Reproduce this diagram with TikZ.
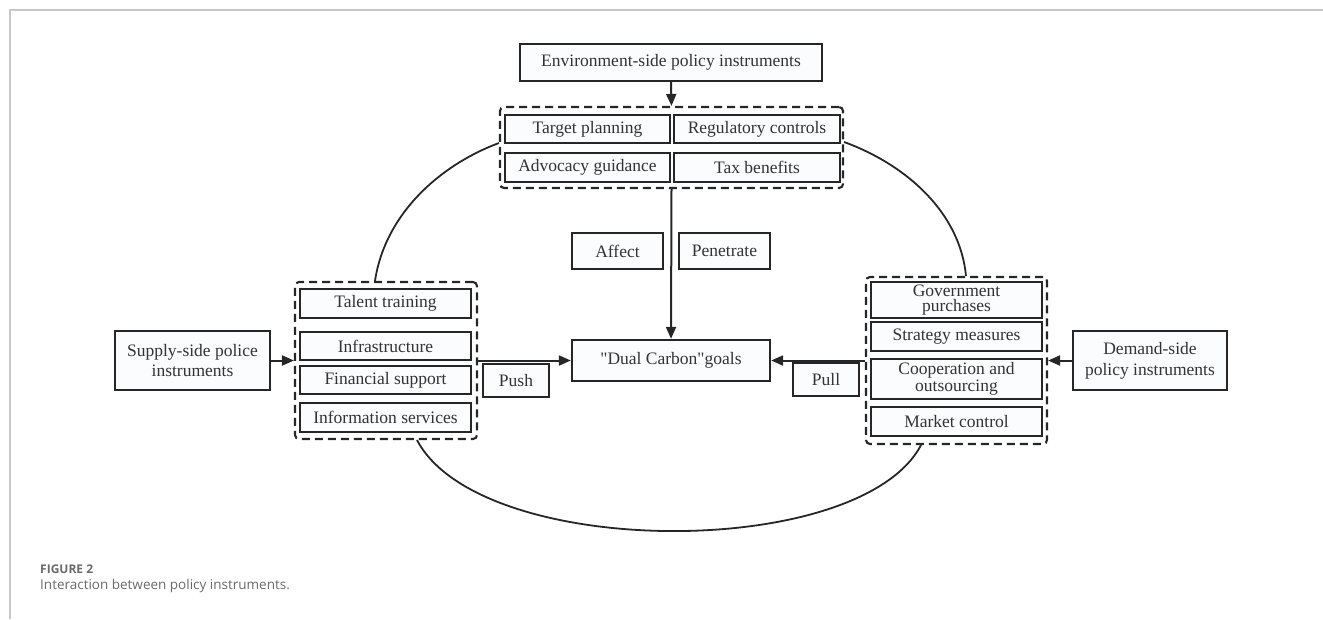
\documentclass[tikz,border=0pt]{standalone}
\usepackage{fontspec}
\setmainfont{Liberation Serif}
\newfontfamily\rawserif{Liberation Serif}
\newfontfamily\capfont{Open Sans}
\usetikzlibrary{arrows.meta,calc}
\definecolor{frame}{HTML}{C8C8C8}
\definecolor{ink}{HTML}{262626}
\definecolor{txt}{HTML}{333333}
\definecolor{boxfill}{HTML}{FAFCFD}
\definecolor{capgray}{HTML}{6A6A6A}
\begin{document}
\begin{tikzpicture}[x=1pt,y=-1pt,
  box/.style={draw=ink, line width=2.3pt, fill=boxfill, inner sep=0pt, align=center, text=txt, font=\fontsize{17.5}{16}\selectfont},
  grp/.style={draw=ink, line width=2.1pt, dash pattern=on 8pt off 5pt, rounded corners=4pt, inner sep=0pt},
  arr/.style={draw=ink, line width=2pt, -{Triangle[length=12pt,width=10pt]}},
  loop/.style={draw=ink, line width=1.8pt},
  rule/.style={draw=frame, line width=1.3pt}]
\useasboundingbox (0,0) rectangle (1323,619);
% frame
\coordinate (fa) at (10,619);
\coordinate (fb) at (10,10);
\coordinate (fc) at (1323,10);
\draw[rule] (fa) -- (fb) -- (fc);
% groups
\node[grp, minimum width=343pt, minimum height=81pt] (envgrp) at (671.5,147.5) {};
\node[grp, minimum width=182pt, minimum height=157pt] (lgrp) at (386,360.5) {};
\node[grp, minimum width=181pt, minimum height=167pt] (rgrp) at (956.5,360.5) {};
% top
\node[box, minimum width=302pt, minimum height=37pt] (env) at (671,62.5) {Environment-side policy instruments};
\node[box, minimum width=165pt, minimum height=28pt] (tp) at (587.5,129) {Target planning};
\node[box, minimum width=166pt, minimum height=28pt] (rc) at (757,129) {Regulatory controls};
\node[box, minimum width=165pt, minimum height=29pt] (ag) at (587.5,167.5) {Advocacy guidance};
\node[box, minimum width=166pt, minimum height=29pt] (tb) at (757,167.5) {Tax benefits};
\node[box, minimum width=91pt, minimum height=36pt] (affect) at (617.5,251) {Affect};
\node[box, minimum width=91pt, minimum height=36pt] (pen) at (724.5,251) {Penetrate};
% centre
\node[box, minimum width=198pt, minimum height=41pt] (dual) at (671,360.5) {\rawserif "Dual Carbon"goals};
% left
\node[box, minimum width=155pt, minimum height=59pt, font=\fontsize{17.5}{20}\selectfont] (supply) at (192.5,360.5) {Supply-side police\\instruments};
\node[box, minimum width=171pt, minimum height=29pt] (tt) at (385.5,303.5) {Talent training};
\node[box, minimum width=171pt, minimum height=28pt] (inf) at (385.5,346) {Infrastructure};
\node[box, minimum width=171pt, minimum height=28pt] (fs) at (385.5,380) {Financial support};
\node[box, minimum width=171pt, minimum height=29pt] (is) at (385.5,417.5) {Information services};
\node[box, minimum width=66pt, minimum height=33pt] (push) at (516,380.5) {Push};
% right
\node[box, minimum width=171pt, minimum height=36pt, font=\fontsize{17.5}{15}\selectfont] (gp) at (956.5,300) {Government\\purchases};
\node[box, minimum width=171pt, minimum height=29pt] (sm) at (956.5,336.5) {Strategy measures};
\node[box, minimum width=171pt, minimum height=40pt, font=\fontsize{17.5}{17}\selectfont] (co) at (956.5,379) {Cooperation and\\outsourcing};
\node[box, minimum width=171pt, minimum height=29pt] (mc) at (956.5,421.5) {Market control};
\node[box, minimum width=154pt, minimum height=59pt, font=\fontsize{17.5}{21}\selectfont] (demand) at (1150,360.5) {Demand-side\\policy instruments};
\node[box, minimum width=66pt, minimum height=33pt] (pull) at (826,379.5) {Pull};
% arrows
\draw[arr] (env.south) -- (envgrp.north);
\draw[arr] (envgrp.south) -- (dual.north);
\draw[arr] (supply.east) -- (supply.east -| lgrp.west);
\draw[arr] (lgrp.east |- dual.west) -- (dual.west);
\draw[arr] (demand.west) -- (demand.west -| rgrp.east);
\draw[arr] (rgrp.west |- dual.east) -- (dual.east);
% loops
\draw[loop] ([xshift=-11pt]lgrp.north) .. controls +(10,-67) and +(-59,22) .. ([yshift=4.5pt]envgrp.west);
\draw[loop] ([yshift=5.5pt]envgrp.east) .. controls +(63,23) and +(-6,-63) .. ([xshift=9.5pt]rgrp.north);
\draw[loop] ([xshift=31pt]lgrp.south) .. controls +(63,120) and +(-61,116) .. ([xshift=-35.5pt]rgrp.south);
% caption
\node[anchor=base west, inner sep=0pt, text=capgray, font=\capfont\bfseries\fontsize{12}{12}\selectfont] (fig) at (40,573) {FIGURE 2};
\node[anchor=base west, inner sep=0pt, text=capgray, font=\capfont\fontsize{13.5}{14}\selectfont] (cap) at (40,589) {Interaction between policy instruments.};
\end{tikzpicture}
\end{document}
